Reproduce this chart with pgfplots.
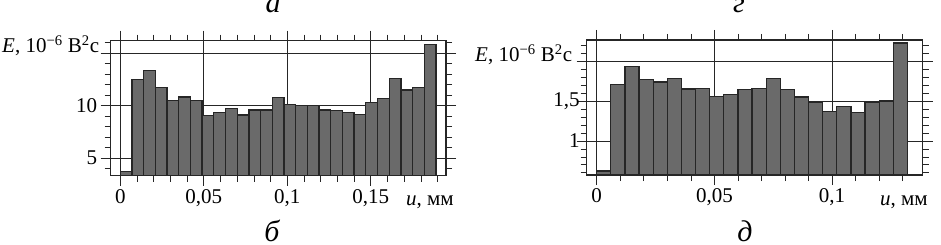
\documentclass[border=0pt]{standalone}
\usepackage{pgfplots}
\pgfplotsset{compat=1.18}
\usepackage{fontspec}
\setmainfont{Liberation Serif}
\definecolor{barfill}{HTML}{6A6A6A}
\definecolor{frame}{HTML}{262626}
\begin{document}
\begin{tikzpicture}
\useasboundingbox (0pt,0pt) rectangle (941pt,244pt);
\pgfplotsset{
 panel/.style={
  scale only axis, anchor=south west,
  axis line style={frame, line width=1.4pt},
  tick align=outside,
  major tick length=10pt, minor tick length=6pt,
  tick style={frame, line width=0.8pt},
  minor tick style={frame, line width=0.6pt},
  major grid style={frame, line width=0.8pt},
  grid=major,
  scaled x ticks=false, scaled y ticks=false,
  xticklabel style={font=\fontsize{21}{21}\selectfont},
  yticklabel style={font=\fontsize{21}{21}\selectfont},
 },
 bars/.style={ybar, bar shift=0pt, fill=barfill, draw=frame, line width=1.3pt},
}
% left panel
\begin{axis}[panel, at={(110.7pt,68.3pt)}, width=335.3pt, height=135pt,
 xmin=-0.00575, xmax=0.195, ymin=3.3, ymax=16.2,
 xtick={0,0.05,0.1,0.15}, xticklabels={0,{0,05},{0,1},{0,15}},
 minor xtick={0.01,0.02,0.03,0.04,0.06,0.07,0.08,0.09,0.11,0.12,0.13,0.14,0.16,0.17,0.18,0.19},
 ytick={5,10,15}, yticklabels={5,10,{}},
 minor ytick={4,6,7,8,9,11,12,13,14,16}]
\addplot[bars, bar width=0.007] coordinates {
(0.0035,3.67) (0.0105,12.46) (0.0175,13.35) (0.0245,11.76) (0.0315,10.46)
(0.0385,10.81) (0.0455,10.46) (0.0525,9.03) (0.0595,9.34) (0.0665,9.69)
(0.0735,9.09) (0.0805,9.57) (0.0875,9.57) (0.0945,10.74) (0.1015,10.08)
(0.1085,9.98) (0.1155,9.98) (0.1225,9.57) (0.1295,9.51) (0.1365,9.34)
(0.1435,9.12) (0.1505,10.27) (0.1575,10.71) (0.1645,12.62) (0.1715,11.5)
(0.1785,11.76) (0.1855,15.86)};
\end{axis}
% right panel
\begin{axis}[panel, at={(586.7pt,69pt)}, width=336pt, height=135pt,
 xmin=-0.00425, xmax=0.1385, ymin=0.571, ymax=2.27,
 xtick={0,0.05,0.1}, xticklabels={0,{0,05},{0,1}},
 minor xtick={0.01,0.02,0.03,0.04,0.06,0.07,0.08,0.09,0.11,0.12,0.13},
 ytick={1,1.5,2}, yticklabels={1,{1,5},{}},
 minor ytick={0.6,0.7,0.8,0.9,1.1,1.2,1.3,1.4,1.6,1.7,1.8,1.9,2.1,2.2},
 yticklabel style={inner sep=0pt, xshift=3pt}]
\addplot[bars, bar width=0.006] coordinates {
(0.003,0.62) (0.009,1.706) (0.015,1.933) (0.021,1.773) (0.027,1.74)
(0.033,1.786) (0.039,1.652) (0.045,1.66) (0.051,1.559) (0.057,1.58)
(0.063,1.643) (0.069,1.66) (0.075,1.786) (0.081,1.643) (0.087,1.551)
(0.093,1.483) (0.099,1.37) (0.105,1.433) (0.111,1.357) (0.117,1.483)
(0.123,1.504) (0.129,2.232)};
\end{axis}
\begin{scope}[every node/.style={inner sep=0pt, font=\fontsize{21}{21}\selectfont}]
\node[anchor=base west] at (2pt,191pt) {\textit{E}, 10\textsuperscript{−6} В\textsuperscript{2}с};
\node[anchor=base west] at (475pt,182.3pt) {\textit{E}, 10\textsuperscript{−6} В\textsuperscript{2}с};
\node[anchor=base west] at (406pt,39pt) {\textit{u}, мм};
\node[anchor=base west] at (880pt,39pt) {\textit{u}, мм};
\node[anchor=base, font=\fontsize{30}{30}\selectfont\itshape] at (273pt,231pt) {а};
\node[anchor=base, font=\fontsize{30}{30}\selectfont\itshape] at (739pt,231pt) {г};
\node[anchor=base, font=\fontsize{30}{30}\selectfont\itshape] at (272pt,3pt) {б};
\node[anchor=base, font=\fontsize{30}{30}\selectfont\itshape] at (745pt,3pt) {д};
\end{scope}
\end{tikzpicture}
\end{document}
